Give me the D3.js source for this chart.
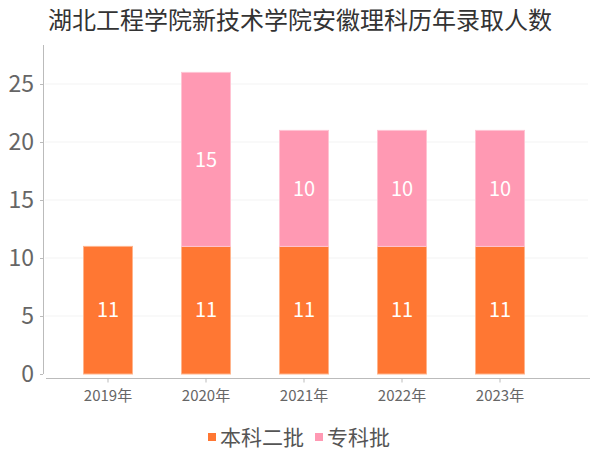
<!DOCTYPE html>
<html><head><meta charset="utf-8">
<script src="https://cdn.jsdelivr.net/npm/d3@7"></script>
<style>body{margin:0;background:#fff;} text{font-family:"Noto Sans CJK SC","Noto Sans",sans-serif;}</style>
</head><body>
<svg id="c" width="600" height="450"></svg>
<script>
const title = "湖北工程学院新技术学院安徽理科历年录取人数";
const categories = ["2019年","2020年","2021年","2022年","2023年"];
const seriesNames = ["本科二批","专科批"];
const benke = [11,11,11,11,11];
const zhuanke = [0,15,10,10,10];
const yTicks = [0,5,10,15,20,25];
const colors = ["#FF7733","#FF99B3"];
const strokes = ["#FFB48C","#FFC4D3"];

const svg = d3.select("#c");
const x = d3.scaleBand().domain(categories).range([59,549]).paddingInner(0.5).paddingOuter(0.25);
const y = d3.scaleLinear().domain([0,25]).range([374,84]);

svg.append("text").attr("x",300).attr("y",29).attr("text-anchor","middle")
  .attr("font-size",24).attr("fill","#333").text(title);

// grid
svg.append("g").selectAll("line").data(yTicks.slice(1)).join("line")
  .attr("x1",45).attr("x2",588).attr("y1",d=>y(d)).attr("y2",d=>y(d))
  .attr("stroke","#f3f3f3").attr("stroke-width",1);

// y axis
const ya = svg.append("g").attr("transform","translate(43,0)")
  .call(d3.axisLeft(y).tickValues(yTicks).tickSize(3).tickPadding(6));
ya.select(".domain").remove();
svg.append("line").attr("x1",43.5).attr("x2",43.5).attr("y1",45).attr("y2",374).attr("stroke","#bbb");
ya.selectAll(".tick line").attr("stroke","#bbb");
ya.selectAll("text").attr("font-size",23).attr("fill","#666");

// x axis
svg.append("line").attr("x1",46).attr("x2",590).attr("y1",378.5).attr("y2",378.5).attr("stroke","#bbb");
const xa = svg.append("g").attr("transform","translate(0,378.5)")
  .call(d3.axisBottom(x).tickSize(4).tickPadding(8));
xa.select(".domain").remove();
xa.selectAll(".tick line").attr("stroke","#bbb");
xa.selectAll("text").attr("font-size",15).attr("fill","#666");

const stack = categories.map((c,i)=>({c, v:[benke[i],zhuanke[i]]}));
stack.forEach(d=>{
  let base=0;
  d.v.forEach((v,si)=>{
    if(v>0){
      svg.append("rect").attr("x",x(d.c)).attr("width",x.bandwidth())
        .attr("y",y(base+v)).attr("height",y(base)-y(base+v))
        .attr("fill",colors[si]).attr("stroke",strokes[si]).attr("stroke-width",1);
      svg.append("text").attr("x",x(d.c)+x.bandwidth()/2).attr("y",(y(base)+y(base+v))/2)
        .attr("dy","0.36em").attr("text-anchor","middle").attr("font-size",20).attr("fill","#fff").text(v);
    }
    base+=v;
  });
});

// legend
const leg = [{n:seriesNames[0],c:colors[0],x:208},{n:seriesNames[1],c:colors[1],x:315}];
leg.forEach(l=>{
  svg.append("rect").attr("x",l.x).attr("y",433).attr("width",8).attr("height",8).attr("fill",l.c);
  svg.append("text").attr("x",l.x+12).attr("y",437).attr("dy","0.36em").attr("font-size",21).attr("fill","#555").text(l.n);
});
</script>
</body></html>
